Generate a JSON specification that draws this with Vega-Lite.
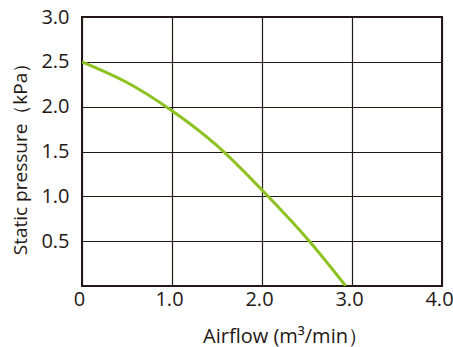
{
  "$schema": "https://vega.github.io/schema/vega-lite/v6.json",
  "width": 360,
  "height": 269,
  "autosize": "none",
  "padding": {"left": 82, "top": 17, "right": 11, "bottom": 61},
  "background": "white",
  "config": {
    "font": "Open Sans",
    "view": {"stroke": "#231815", "strokeWidth": 2}
  },
  "data": {
    "values": [
      {"airflow": 0.0, "pressure": 2.5},
      {"airflow": 0.5, "pressure": 2.27},
      {"airflow": 1.0, "pressure": 1.955},
      {"airflow": 1.5, "pressure": 1.565},
      {"airflow": 2.0, "pressure": 1.07},
      {"airflow": 2.5, "pressure": 0.53},
      {"airflow": 2.93, "pressure": 0.0}
    ]
  },
  "mark": {"type": "line", "color": "#8cc21f", "strokeWidth": 3, "interpolate": "natural", "clip": true},
  "encoding": {
    "x": {
      "field": "airflow",
      "type": "quantitative",
      "scale": {"domain": [0, 4], "nice": false},
      "axis": {
        "values": [0, 1, 2, 3, 4],
        "title": "Airflow (m³/min）",
        "titleFont": "Open Sans",
        "titleFontSize": 20,
        "titleFontWeight": "normal",
        "titleColor": "#231815",
        "titleX": 203,
        "titleY": 56,
        "titleAlign": "center",
        "titleBaseline": "alphabetic",
        "labelFontSize": 20,
        "labelColor": "#231815",
        "labelPadding": 3,
        "labelFlush": false,
        "labelOffset": -3,
        "labelExpr": "datum.value == 0 ? '0' : format(datum.value, '.1f')",
        "ticks": false,
        "domain": false,
        "grid": true,
        "gridColor": "#231815",
        "gridOpacity": 1,
        "gridWidth": 1.2
      }
    },
    "y": {
      "field": "pressure",
      "type": "quantitative",
      "scale": {"domain": [0, 3], "nice": false},
      "axis": {
        "values": [0.5, 1, 1.5, 2, 2.5, 3],
        "format": ".1f",
        "title": "Static pressure（kPa）",
        "titleFont": "Open Sans",
        "titleFontSize": 19,
        "titleFontWeight": "normal",
        "titleColor": "#231815",
        "titleX": -56,
        "titleY": 137,
        "titleAlign": "center",
        "titleBaseline": "alphabetic",
        "labelFontSize": 20,
        "labelColor": "#231815",
        "labelPadding": 13,
        "ticks": false,
        "domain": false,
        "grid": true,
        "gridColor": "#231815",
        "gridOpacity": 1,
        "gridWidth": 1.2
      }
    }
  }
}
